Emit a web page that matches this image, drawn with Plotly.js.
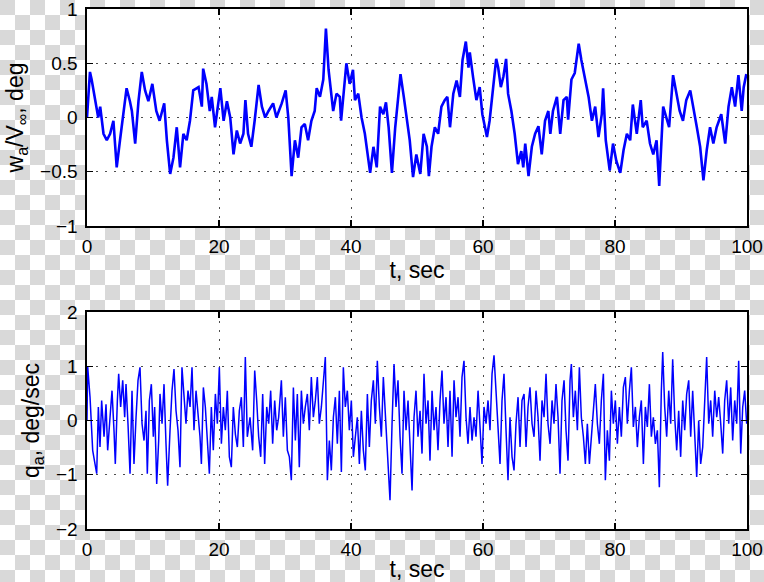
<!DOCTYPE html>
<html>
<head>
<meta charset="utf-8">
<script src="https://cdn.plot.ly/plotly-3.0.1.min.js"></script>
<style>
html, body { margin: 0; padding: 0; width: 764px; height: 582px; overflow: hidden;
  background-color: #fff;
  background-image: conic-gradient(#fff 0 25%, #d9d9d9 0 50%, #fff 0 75%, #d9d9d9 0);
  background-size: 30px 30px; background-position: 0 0; }
#chart { width: 764px; height: 582px; }
</style>
</head>
<body>
<div id="chart"></div>
<script>
// Top panel: w_a / V_inf (deg) vs time (s)
const tTop = [0,0.45,0.7,1.2,1.7,2.0,2.5,3.0,3.5,4.0,4.5,5.0,5.5,6.0,6.5,6.8,7.3,7.8,8.3,8.8,9.3,9.9,10.5,11.0,11.7,12.1,12.6,13.1,13.6,14.1,14.6,15.1,15.6,16.1,
16.9,17.4,17.6,18.1,18.6,18.9,19.4,20.2,20.7,21.2,21.7,22.2,22.7,23.2,23.7,24.0,24.4,24.9,25.4,26.0,26.5,27.0,27.5,28.2,28.7,29.5,30.1,30.5,31.0,31.5,32.0,32.5,
33.0,33.5,34.0,34.5,34.8,35.3,35.8,36.2,36.6,37.1,37.3,37.8,38.3,38.5,39.1,39.3,39.8,40.3,40.6,41.1,41.6,42.1,42.9,43.4,43.9,44.4,44.9,45.3,45.7,46.2,46.7,47.2,47.5,48.0,48.4,48.9,49.4,
49.9,50.5,51.0,51.5,51.8,52.2,52.7,53.2,53.7,54.2,54.6,55.0,55.5,56.0,56.5,56.9,57.4,57.8,58.0,58.5,59.0,59.5,59.9,60.3,60.6,61.0,61.6,62.0,62.3,62.7,63.1,63.5,63.8,64.3,64.8,65.3,65.8,
66.1,66.4,66.9,67.4,67.9,68.4,68.9,69.4,69.9,70.2,70.6,71.2,71.7,72.2,72.7,72.9,73.4,73.9,74.5,74.9,75.5,76.0,76.5,77.0,77.5,78.0,78.2,78.6,79.2,79.7,80.2,80.8,81.3,81.8,82.3,82.7,
83.3,83.9,84.2,84.8,85.3,85.8,86.3,86.7,87.3,87.8,88.2,88.8,89.3,89.8,90.3,90.8,91.4,91.9,92.4,92.9,93.4,93.9,94.4,94.9,95.4,96.1,96.7,97.2,97.7,98.2,98.7,99.2,99.5,99.9];
const wTop = [0.0,0.42,0.35,0.19,0.0,0.1,-0.15,-0.21,-0.15,-0.03,-0.46,-0.21,0.06,0.27,0.15,0.06,-0.24,0.15,0.42,0.25,0.15,0.31,0.06,-0.03,0.13,-0.21,-0.52,-0.37,-0.09,-0.46,-0.15,-0.21,-0.03,0.25,
0.28,0.1,0.45,0.31,0.06,0.19,-0.09,0.27,-0.03,0.15,0.0,-0.34,-0.12,-0.24,-0.15,0.16,-0.15,-0.27,-0.03,0.3,0.1,0.0,0.06,0.13,0.0,0.13,0.25,0.0,-0.54,-0.21,-0.37,-0.09,
-0.06,-0.21,-0.03,0.06,0.27,0.19,0.35,0.82,0.44,0.16,0.06,0.22,0.19,-0.03,0.4,0.5,0.31,0.44,0.16,0.22,0.0,-0.15,-0.51,-0.27,-0.46,0.1,0.03,0.14,-0.09,-0.51,-0.09,0.25,0.4,0.19,0.0,-0.21,-0.55,
-0.34,-0.52,-0.15,-0.27,-0.54,-0.27,-0.09,-0.15,0.1,0.16,0.19,-0.09,0.22,0.34,0.19,0.53,0.7,0.46,0.6,0.37,0.16,0.28,0.03,-0.09,-0.18,-0.03,0.31,0.54,0.46,0.28,0.38,0.54,0.22,0.06,-0.15,-0.43,-0.31,
-0.46,-0.24,-0.54,-0.27,-0.15,-0.08,-0.34,-0.03,0.06,-0.15,0.06,0.19,-0.15,0.16,0.19,-0.02,0.35,0.41,0.68,0.53,0.35,0.19,-0.03,0.1,-0.18,0.03,0.27,-0.21,-0.49,-0.24,-0.4,-0.51,-0.3,-0.15,-0.21,0.12,
-0.15,0.16,-0.09,-0.03,-0.24,-0.34,-0.21,-0.63,0.1,0.0,-0.09,0.39,0.22,0.06,-0.03,0.16,0.25,0.06,-0.09,-0.27,-0.58,-0.3,-0.09,-0.24,-0.09,0.03,-0.24,0.1,0.28,0.1,0.39,0.06,0.28,0.4];

// Bottom panel: q_a (deg/sec) vs time (s)
const tBot = [0,0.1,0.46,0.86,1.21,1.47,1.72,1.97,2.22,2.58,2.88,3.13,3.49,3.79,4.09,4.29,4.60,4.80,5.10,5.41,5.71,5.91,6.21,6.52,6.82,7.12,7.43,7.73,8.03,8.34,8.64,8.94,9.14,9.45,9.75,10.05,10.25,10.56,10.86,11.06,11.37,11.67,11.97,12.22,12.58,12.88,13.18,13.49,13.79,14.09,14.39,14.70,15.00,15.30,15.61,15.91,16.21,16.52,16.82,17.12,17.33,17.63,17.93,18.23,18.54,18.84,19.14,19.45,19.75,20.05,20.36,20.66,20.96,21.26,21.57,21.87,22.17,22.48,22.78,23.08,23.39,23.69,23.99,24.29,
24.70,25.10,25.41,25.71,26.01,26.32,26.62,26.92,27.23,27.53,27.83,28.13,28.44,28.74,29.04,29.45,29.75,30.05,30.36,30.66,30.96,31.27,31.57,31.87,32.17,32.48,32.78,33.08,33.39,33.69,33.99,34.30,34.60,34.90,35.20,35.51,35.81,36.11,36.42,36.72,37.02,37.33,37.63,37.93,38.24,38.54,38.84,39.14,39.45,39.75,40.05,40.36,40.66,40.96,41.27,41.57,41.87,42.17,42.48,42.78,43.08,43.39,43.69,43.99,44.30,44.60,44.90,45.20,45.51,45.91,46.22,46.52,46.82,47.12,47.43,47.73,48.03,48.34,48.64,48.94,49.25,49.55,49.85,50.15,50.46,50.76,51.06,51.37,51.67,51.97,52.28,52.58,52.88,53.18,53.49,53.79,54.09,54.40,54.70,55.00,55.31,55.61,55.91,56.22,56.52,56.82,57.12,57.43,57.73,58.03,58.34,58.64,58.94,59.25,59.55,59.85,60.15,60.46,60.76,61.06,61.37,61.67,61.97,62.28,62.58,62.88,63.18,63.49,63.79,64.09,
64.40,64.70,65.00,65.31,65.61,65.91,66.22,66.52,66.82,67.12,67.43,67.73,68.03,68.34,68.64,68.94,69.25,69.55,69.85,70.16,70.46,70.76,71.06,71.37,71.67,71.97,72.28,72.58,72.88,73.19,73.39,73.69,73.99,74.30,74.60,74.90,75.21,75.51,75.81,76.12,76.42,76.72,77.02,77.33,77.63,77.93,78.24,78.54,78.84,79.15,79.45,79.75,80.05,80.36,80.66,80.96,81.27,81.57,81.87,82.18,82.48,82.78,83.09,83.39,83.69,83.99,84.30,84.60,84.90,85.21,85.51,85.81,86.12,86.42,86.72,87.02,87.23,87.53,87.83,88.14,88.44,88.74,89.05,89.35,89.65,89.95,90.26,90.56,90.86,91.17,91.47,91.77,92.08,92.38,92.68,92.98,93.29,93.59,93.89,94.20,94.50,94.80,95.11,95.41,95.71,96.02,96.32,96.62,96.92,97.23,97.53,97.83,98.14,98.44,98.74,99.05,99.35,99.65,99.95];
const qBot = [0.0,1.0,0.43,-0.55,-0.8,-0.98,0.25,-0.49,0.37,-0.3,0.3,-0.55,0.06,0.55,-0.18,-0.8,0.37,0.86,0.25,0.74,0.06,0.67,-0.06,-0.98,0.55,-0.8,0.06,0.74,0.98,-0.06,-0.37,0.18,-0.98,0.37,0.67,-0.3,0.25,-1.17,-0.37,0.49,-0.06,0.67,-0.43,-1.2,-0.18,0.55,0.95,0.18,-0.18,-0.86,0.98,0.37,-0.06,0.55,0.25,0.98,-0.18,0.55,0.12,-0.3,-0.8,0.61,0.25,-0.49,-0.98,0.25,-0.55,0.49,-0.06,0.98,-0.43,0.25,-0.18,0.55,-0.67,-0.86,0.25,-0.25,-0.49,0.18,0.43,-0.49,1.17,-0.3,
0.06,-0.55,0.92,0.37,-0.3,-0.67,0.49,-0.8,0.25,-0.06,0.55,-0.43,0.37,-0.18,0.06,0.74,-0.3,0.43,-0.55,-0.67,-1.1,0.61,-0.37,0.49,-0.86,0.55,-0.06,0.25,0.49,-0.18,0.8,0.06,0.37,0.8,-0.06,0.25,0.8,1.17,-1.1,-0.37,-0.92,0.06,0.43,-0.43,0.55,-0.95,0.98,0.25,0.55,-0.18,0.37,-0.67,-0.3,0.06,-0.8,0.18,-0.55,-0.92,0.49,-0.49,0.37,0.74,-0.06,1.1,0.25,-0.3,0.8,0.06,-0.49,-1.47,-0.06,1.04,0.25,0.74,-0.3,-0.98,0.55,-0.18,0.37,-0.49,-1.29,0.06,0.55,-0.3,0.18,-0.61,0.86,-0.06,0.37,-0.74,0.55,-0.18,0.25,-0.55,0.37,0.92,-0.06,0.43,-0.49,0.55,-0.67,0.74,0.06,0.43,-0.3,0.8,1.1,0.06,-0.43,0.25,-0.37,0.06,-0.3,0.55,-0.06,-0.8,0.25,-0.06,0.37,-0.18,0.86,1.2,0.55,-0.12,-0.8,0.37,0.86,-0.18,-1.1,0.06,
-0.67,-0.92,-0.06,0.43,-0.49,0.37,0.49,-0.49,0.25,0.61,-0.06,-0.3,0.55,0.06,-0.74,0.37,0.06,0.86,-0.06,-0.43,0.37,-0.06,0.67,0.06,-0.98,0.37,0.74,-0.18,-0.74,0.74,1.04,0.06,0.55,-0.18,0.98,0.06,-0.3,-0.8,-0.06,-0.8,-0.3,0.06,0.67,-0.06,-0.43,0.37,0.86,-1.1,-0.18,-0.74,0.55,-0.06,0.37,-0.43,0.25,-0.3,0.61,0.8,-0.06,0.55,0.98,-0.12,0.25,-0.49,0.06,0.37,-0.8,0.25,-0.12,0.67,-0.3,0.06,-0.43,-0.18,-1.23,0.55,1.26,0.25,-0.3,0.55,-0.06,1.13,0.06,-0.55,0.18,-0.67,0.37,-0.18,0.49,0.74,-0.3,0.55,-0.43,-1.04,0.0,-0.8,-0.49,0.43,1.17,-0.06,0.37,-0.3,0.55,0.06,0.43,-0.06,-0.61,0.37,0.74,-0.06,0.61,-0.37,0.37,-0.06,1.1,-0.61,0.25,0.55,-0.06];

const xTicks = [0, 20, 40, 60, 80, 100];
const yTopTicks = [-1, -0.5, 0, 0.5, 1];
const yBotTicks = [-2, -1, 0, 1, 2];

const gridStyle = { showgrid: true, gridcolor: '#4d4d4d', griddash: '2px,7px', gridwidth: 1, zeroline: false };
const lineStyle = { showline: true, linecolor: '#000', linewidth: 1.6, mirror: 'ticks', ticks: 'inside', ticklen: 6, tickwidth: 1.2, tickcolor: '#000', ticklabeloverflow: 'allow' };

const data = [
  { x: tTop, y: wTop, type: 'scatter', mode: 'lines', line: { color: '#0000ff', width: 2.6 }, xaxis: 'x', yaxis: 'y', hoverinfo: 'skip' },
  { x: tBot, y: qBot, type: 'scatter', mode: 'lines', line: { color: '#0000ff', width: 1.5 }, xaxis: 'x2', yaxis: 'y2', hoverinfo: 'skip' }
];

const layout = {
  width: 764, height: 582,
  margin: { l: 87, r: 17, t: 9, b: 53 },
  paper_bgcolor: 'rgba(0,0,0,0)', plot_bgcolor: '#ffffff',
  font: { family: 'Liberation Sans, Arial, sans-serif', size: 19, color: '#000' },
  showlegend: false,
  xaxis: Object.assign({ domain: [0, 1], anchor: 'y', range: [0, 100], tickvals: xTicks, ticklabelstandoff: 3,
    title: { text: 't, sec', standoff: 5 } }, gridStyle, lineStyle),
  yaxis: Object.assign({ domain: [0.5827, 1], anchor: 'x', range: [-1, 1], tickvals: yTopTicks, ticklabelstandoff: 4,
    title: { text: 'w<sub>a</sub>/V<sub>∞</sub>, deg', standoff: 10 } }, gridStyle, lineStyle),
  xaxis2: Object.assign({ domain: [0, 1], anchor: 'y2', range: [0, 100], tickvals: xTicks, ticklabelstandoff: 3,
    title: { text: 't, sec', standoff: 5 } }, gridStyle, lineStyle),
  yaxis2: Object.assign({ domain: [0, 0.4173], anchor: 'x2', range: [-2, 2], tickvals: yBotTicks, ticklabelstandoff: 4,
    title: { text: 'q<sub>a</sub>, deg/sec', standoff: 10 } }, gridStyle, lineStyle)
};

Plotly.newPlot('chart', data, layout, { staticPlot: true, displayModeBar: false });
</script>
</body>
</html>
